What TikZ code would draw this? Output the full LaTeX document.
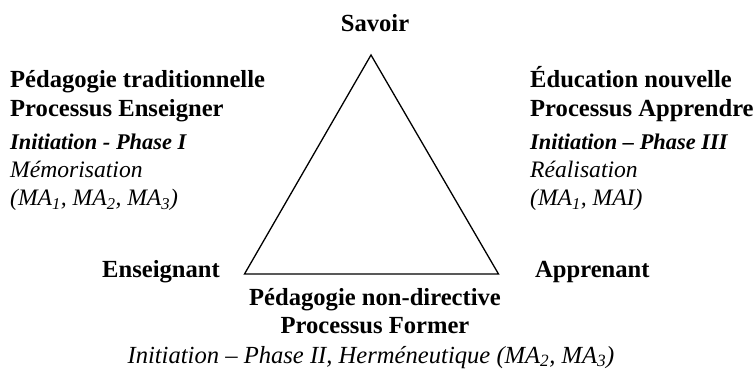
\documentclass[tikz,border=0pt]{standalone}
\usepackage{fontspec}
\setmainfont{Liberation Serif}
\tikzset{
  lbl/.style={inner sep=0pt, font=\fontsize{24.6}{28}\selectfont\bfseries},
  bit/.style={inner sep=0pt, font=\fontsize{22.4}{26}\selectfont\bfseries\itshape},
  blk/.style={inner sep=0pt, font=\fontsize{24.6}{28}\selectfont\itshape},
  sblk/.style={inner sep=0pt, font=\fontsize{23.6}{27}\selectfont\itshape},
  tri/.style={draw=black, line width=1.3pt, line join=miter}
}
\begin{document}
\begin{tikzpicture}[x=1pt,y=-1pt]
\useasboundingbox (0,0) rectangle (756,374);
\coordinate (A) at (371,55);
\coordinate (B) at (244.5,274);
\coordinate (C) at (498.5,274);
\draw[tri] (A) -- (B) -- (C) -- cycle;
\node[lbl, anchor=base] (sav) at (375,32) {Savoir};
\node[lbl, anchor=base west] (l1) at (10,88) {Pédagogie traditionnelle};
\node[lbl, anchor=base west] (l2) at (10,116.5) {Processus Enseigner};
\node[bit, anchor=base west] (l3) at (10,150) {Initiation - Phase I};
\node[sblk, anchor=base west] (l4) at (10,178) {Mémorisation};
\node[sblk, anchor=base west] (l5) at (10,205.5) {(MA\textsubscript{1}, MA\textsubscript{2}, MA\textsubscript{3})};
\node[lbl, anchor=base west] (r1) at (530,88) {Éducation nouvelle};
\node[lbl, anchor=base west] (r2) at (530,116.5) {Processus Apprendre};
\node[bit, anchor=base west] (r3) at (530,150) {Initiation – Phase III};
\node[sblk, anchor=base west] (r4) at (530,178) {Réalisation};
\node[sblk, anchor=base west] (r5) at (530,205.5) {(MA\textsubscript{1}, MAI)};
\node[lbl, anchor=base east] (ens) at (220,278) {Enseignant};
\node[lbl, anchor=base west] (app) at (535,278) {Apprenant};
\node[lbl, anchor=base] (b1) at (375,306) {Pédagogie non-directive};
\node[lbl, anchor=base] (b2) at (375,334) {Processus Former};
\node[blk, anchor=base] (b3) at (371,363) {Initiation – Phase II, Herméneutique (MA\textsubscript{2}, MA\textsubscript{3})};
\end{tikzpicture}
\end{document}
